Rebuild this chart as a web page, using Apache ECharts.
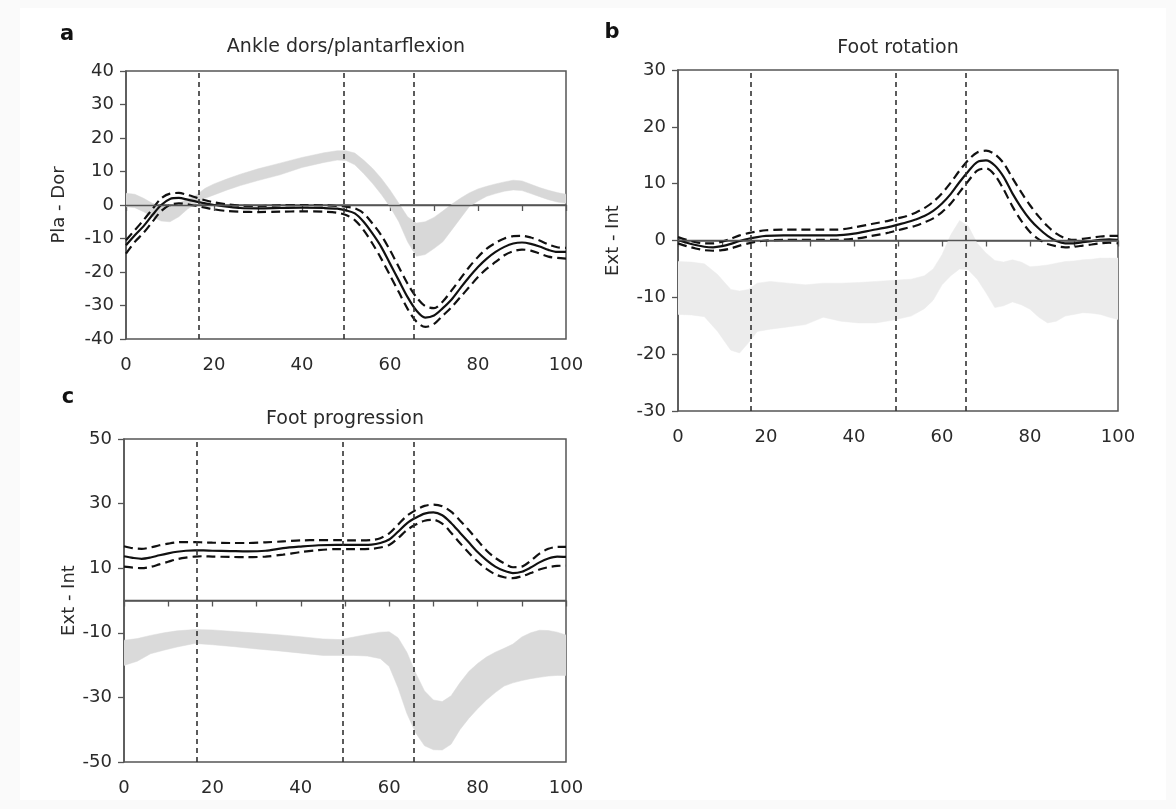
<!DOCTYPE html>
<html>
<head>
<meta charset="utf-8">
<script src="https://cdn.jsdelivr.net/npm/echarts@6/dist/echarts.min.js"></script>
<style>
html,body{margin:0;padding:0;background:#fafafa;}
#chart{width:1176px;height:809px;}
</style>
</head>
<body>
<div id="chart"></div>
<script>
// ---------- Data ----------
const verticalEvents = [16.5, 49.5, 65.5];

// Panel a: Ankle dors/plantarflexion
const aX = [0,2,4,6,8,10,12,14,16,18,20,23,26,30,35,40,45,48,50,52,54,56,58,60,62,64,66,68,70,72,74,76,78,80,82,84,86,88,90,92,94,96,98,100];
const aMean = [-12,-9,-6.3,-3,0,1.8,2.1,1.6,1.0,0.5,0,-0.5,-0.9,-1.0,-0.9,-0.8,-0.9,-1.1,-1.6,-2.5,-5,-8.5,-12.5,-17.5,-22.5,-27.5,-31.5,-33.6,-33,-30.8,-28.2,-24.8,-21.5,-18.5,-16,-14,-12.5,-11.5,-11.2,-11.6,-12.4,-13.4,-14,-14];
const aUpper = [-10.5,-7.5,-4.5,-1.2,2,3.4,3.6,3.0,2.2,1.4,0.8,0.2,-0.2,-0.3,-0.1,0,-0.1,-0.3,-0.5,-1.0,-2.5,-5.5,-9,-13.5,-18.5,-23.5,-27.5,-30.2,-30.8,-28.8,-25.5,-22,-18.5,-15.5,-13,-11.3,-10,-9.3,-9.2,-9.7,-10.6,-11.8,-12.6,-12.8];
const aLower = [-14.5,-11,-8.3,-5,-1.8,0,0.5,0.2,-0.3,-0.8,-1.3,-1.8,-2.0,-2.1,-2.0,-1.9,-2.0,-2.3,-3.0,-4.5,-7.5,-11.5,-16,-21,-26,-31,-34.8,-36.4,-35.5,-33,-30.5,-27.5,-24.5,-21.5,-19,-17,-15,-13.8,-13.3,-13.6,-14.5,-15.4,-15.8,-16];
const aBandX = [0,2,4,6,8,10,12,14,16,18,20,23,26,30,35,40,45,48,50,52,54,56,58,60,62,64,66,68,70,72,74,76,78,80,82,84,86,88,90,92,94,96,98,100];
const aBandHigh = [3.5,3.2,2,0.5,-0.3,-0.5,0.5,1.8,3,5,6.3,7.8,9.2,10.8,12.5,14.2,15.6,16.2,16.2,15.5,13.4,11,8,4.5,0.5,-3.5,-5.4,-5,-3.7,-1.8,0.2,2,3.6,4.8,5.6,6.3,6.9,7.4,7.2,6.2,5.2,4.4,3.7,3.2];
const aBandLow = [-0.5,-0.8,-2,-3.5,-4.8,-5,-3.5,-1.2,0.5,2,3,4.5,5.8,7.3,9,11.2,12.7,13.4,13.3,12,9.4,6.5,3.2,-0.5,-5,-11,-15.3,-14.8,-13,-11,-7.5,-4,-0.5,1.2,2.6,3.4,4.1,4.5,4.3,3.4,2.5,1.6,0.9,0.5];

// Panel b: Foot rotation
const bX = [0,2,4,6,8,10,12,14,16,18,20,24,28,32,36,40,44,48,50,52,54,56,58,60,62,64,66,68,70,72,74,76,78,80,82,84,86,88,90,92,94,96,98,100];
const bMean = [0.1,-0.4,-0.8,-1.1,-1.2,-1.0,-0.6,-0.1,0.3,0.6,0.8,0.9,0.9,0.9,0.9,1.2,1.8,2.4,2.8,3.2,3.7,4.3,5.2,6.5,8.2,10.3,12.2,13.8,14.1,13.2,11.2,8.3,5.8,3.7,2.1,0.8,-0.1,-0.5,-0.5,-0.3,-0.1,0.1,0.2,0.1];
const bUpper = [0.6,0.1,-0.3,-0.5,-0.5,-0.2,0.3,0.9,1.3,1.6,1.8,1.9,1.9,1.9,1.9,2.3,2.9,3.5,3.9,4.3,4.9,5.7,6.8,8.3,10.2,12.3,14.2,15.5,15.8,15.2,13.6,11,8.5,6.2,4.2,2.5,1.2,0.4,0.1,0.3,0.5,0.7,0.8,0.8];
const bLower = [-0.5,-1.0,-1.4,-1.7,-1.8,-1.7,-1.4,-0.9,-0.5,-0.2,0.0,0.1,0.1,0.1,0.1,0.3,0.8,1.4,1.8,2.2,2.6,3.2,3.9,5.0,6.5,8.5,10.5,12.3,12.7,11.5,9.0,6.0,3.5,1.5,0.2,-0.6,-1.0,-1.2,-1.1,-0.9,-0.7,-0.5,-0.4,-0.5];
const bBandX = [0,3,6,9,12,14,16,18,21,25,29,33,37,41,45,49,53,56,58,60,62,64,66,68,70,72,74,76,78,80,82,84,86,88,90,92,94,96,98,100];
const bBandHigh = [-3.7,-3.8,-4.1,-6.0,-8.6,-8.9,-8.6,-7.5,-7.2,-7.5,-7.8,-7.5,-7.5,-7.4,-7.2,-7.0,-6.8,-6.2,-5.0,-2.5,1.0,3.5,2.5,-0.5,-2.2,-3.5,-3.8,-3.4,-3.8,-4.6,-4.5,-4.3,-4.0,-3.7,-3.6,-3.4,-3.3,-3.1,-3.1,-3.1];
const bBandLow = [-13.0,-13.1,-13.4,-16.0,-19.3,-19.8,-18.0,-16.0,-15.6,-15.2,-14.8,-13.5,-14.2,-14.5,-14.5,-14.0,-13.3,-12.0,-10.5,-7.8,-6.2,-5.0,-5.2,-6.8,-9.2,-11.8,-11.5,-10.8,-11.3,-12.1,-13.5,-14.5,-14.2,-13.3,-13.0,-12.7,-12.8,-13.0,-13.5,-13.9];

// Panel c: Foot progression
const cX = [0,2,4,6,8,10,12,14,16,18,20,24,28,32,36,40,44,48,52,56,58,60,62,64,66,68,70,72,74,76,78,80,82,84,86,88,90,92,94,96,98,100];
const cMean = [13.7,13.2,12.9,13.3,14.0,14.6,15.1,15.4,15.5,15.5,15.4,15.3,15.2,15.4,16.2,16.7,17.1,17.2,17.2,17.3,17.8,18.9,21.3,23.9,25.6,26.9,27.3,26.4,24.0,21.0,18.0,15.0,12.5,10.5,9.2,8.5,8.9,10.2,11.8,13.0,13.6,13.5];
const cUpper = [16.8,16.2,16.0,16.4,17.1,17.6,18.0,18.1,18.1,18.0,17.9,17.8,17.8,18.0,18.3,18.6,18.7,18.7,18.6,18.7,19.3,20.8,23.5,26.2,28.0,29.3,29.7,29.2,27.5,24.8,21.8,18.6,15.5,13.2,11.5,10.3,10.5,12.3,14.5,16.0,16.6,16.6];
const cLower = [10.5,10.2,10.0,10.4,11.2,12.0,12.8,13.3,13.6,13.7,13.6,13.5,13.4,13.6,14.2,15.0,15.6,15.9,15.9,16.0,16.4,17.2,19.3,21.8,23.5,24.7,25.0,23.8,21.0,17.8,14.8,12.0,9.8,8.1,7.2,6.9,7.5,8.5,9.6,10.3,10.7,10.8];
const cBandX = [0,3,6,9,12,16,20,25,30,35,40,45,49,52,55,58,60,62,64,66,68,70,72,74,76,78,80,82,84,86,88,90,92,94,96,98,100];
const cBandHigh = [-12.3,-11.8,-10.8,-10.0,-9.4,-9.0,-9.1,-9.6,-10.1,-10.6,-11.2,-11.9,-12.1,-11.3,-10.5,-9.8,-9.7,-11.5,-16.0,-22.5,-28.0,-30.8,-31.3,-29.5,-25.5,-22.0,-19.5,-17.5,-16.0,-14.8,-13.5,-11.3,-10.0,-9.2,-9.3,-9.8,-10.7];
const cBandLow = [-20.1,-18.8,-16.5,-15.4,-14.4,-13.3,-13.7,-14.3,-15.0,-15.6,-16.3,-17.0,-17.0,-17.0,-17.2,-18.0,-20.4,-27.0,-35.0,-41.0,-45.0,-46.2,-46.3,-44.5,-40.0,-36.5,-33.5,-30.8,-28.5,-26.5,-25.5,-24.8,-24.2,-23.8,-23.4,-23.2,-23.2];

const xLabelValues = [0,20,40,60,80,100];
const xTickValues = [0,10,20,30,40,50,60,70,80,90,100];
const cYValues = [-50,-30,-10,10,30,50];

// ---------- Helpers ----------
const FONT = 'DejaVu Sans';
const AXIS_COLOR = '#555';
const TEXT_COLOR = '#2a2a2a';

function pairs(xs, ys) { return xs.map((x, i) => [x, ys[i]]); }

function xAxisCfg(gridIndex) {
  return {
    type: 'value', gridIndex, min: 0, max: 100,
    axisLine: { lineStyle: { color: AXIS_COLOR, width: 1.5 } },
    axisTick: { show: true, length: 6, lineStyle: { color: AXIS_COLOR, width: 1.3 }, customValues: xTickValues },
    axisLabel: { color: TEXT_COLOR, fontSize: 18, fontFamily: FONT, margin: 17, customValues: xLabelValues },
    splitLine: { show: false }
  };
}
function yAxisCfg(gridIndex, min, max, name, nameGap, extra) {
  const cfg = {
    type: 'value', gridIndex, min, max, interval: 10,
    name, nameLocation: 'middle', nameGap, nameRotate: 90,
    nameTextStyle: { color: TEXT_COLOR, fontSize: 18, fontFamily: FONT },
    axisLine: { lineStyle: { color: AXIS_COLOR, width: 1.5 } },
    axisTick: { show: true, length: 6, lineStyle: { color: AXIS_COLOR, width: 1.3 } },
    axisLabel: { color: TEXT_COLOR, fontSize: 18, fontFamily: FONT, margin: 12 },
    splitLine: { show: false }
  };
  if (extra) {
    cfg.axisTick.customValues = extra;
    cfg.axisLabel.customValues = extra;
  }
  return cfg;
}

function panelSeries(idx, xs, mean, upper, lower, bx, bHigh, bLow, bandColor) {
  const s = [];
  // normative band (grey polygon between bLow and bHigh, placed with the axis scales)
  s.push({
    type: 'custom', xAxisIndex: idx, yAxisIndex: idx, data: [[0, 0]], silent: true, z: 1, clip: true,
    renderItem: function (params, api) {
      const top = bx.map((x, i) => api.coord([x, bHigh[i]]));
      const bot = bx.map((x, i) => api.coord([x, bLow[i]])).reverse();
      return { type: 'polygon', shape: { points: top.concat(bot) }, style: { fill: bandColor, stroke: bandColor, lineWidth: 0.5 } };
    }
  });
  // reference lines
  s.push({
    type: 'line', xAxisIndex: idx, yAxisIndex: idx, data: [], symbol: 'none', z: 2,
    markLine: {
      silent: true, symbol: ['none', 'none'], label: { show: false },
      data: [
        { yAxis: 0, lineStyle: { color: AXIS_COLOR, width: 1.3, type: 'solid' } },
        ...verticalEvents.map(v => ({ xAxis: v, lineStyle: { color: '#333', width: 1.6, type: [5, 4] } }))
      ]
    }
  });
  const lineBase = { type: 'line', xAxisIndex: idx, yAxisIndex: idx, symbol: 'none', smooth: 0.3, z: 3, silent: true };
  s.push(Object.assign({}, lineBase, { data: pairs(xs, upper), lineStyle: { color: '#111', width: 2.2, type: [9, 5] } }));
  s.push(Object.assign({}, lineBase, { data: pairs(xs, lower), lineStyle: { color: '#111', width: 2.2, type: [9, 5] } }));
  s.push(Object.assign({}, lineBase, { data: pairs(xs, mean), lineStyle: { color: '#111', width: 2.2 } }));
  return s;
}

function txt(x, y, text, size, weight) {
  return {
    type: 'text', x, y, silent: true, z: 10,
    style: { text, fontSize: size, fontFamily: FONT, fontWeight: weight || 'normal', fill: weight ? '#111' : TEXT_COLOR, align: 'center', verticalAlign: 'middle' }
  };
}

const chart = echarts.init(document.getElementById('chart'), null, { renderer: 'canvas' });
const gridBorder = { show: true, borderColor: AXIS_COLOR, borderWidth: 1.5, backgroundColor: 'transparent' };
chart.setOption({
  animation: false,
  backgroundColor: '#fafafa',
  grid: [
    Object.assign({ left: 126, top: 71, width: 440, height: 268 }, gridBorder),
    Object.assign({ left: 678, top: 70, width: 440, height: 341 }, gridBorder),
    Object.assign({ left: 124, top: 439, width: 442, height: 323 }, gridBorder)
  ],
  xAxis: [xAxisCfg(0), xAxisCfg(1), xAxisCfg(2)],
  yAxis: [
    yAxisCfg(0, -40, 40, 'Pla - Dor', 58),
    yAxisCfg(1, -30, 30, 'Ext - Int', 56),
    yAxisCfg(2, -50, 50, 'Ext - Int', 45, cYValues)
  ],
  graphic: [
    { type: 'rect', z: -10, silent: true, shape: { x: 20, y: 8, width: 1146, height: 792 }, style: { fill: '#ffffff' } },
    txt(67, 35, 'a', 21, 'bold'),
    txt(612, 33, 'b', 21, 'bold'),
    txt(68, 398, 'c', 21, 'bold'),
    txt(346, 47, 'Ankle dors/plantarflexion', 19),
    txt(898, 48, 'Foot rotation', 19),
    txt(345, 419, 'Foot progression', 19)
  ],
  series: [
    ...panelSeries(0, aX, aMean, aUpper, aLower, aBandX, aBandHigh, aBandLow, '#d8d8d8'),
    ...panelSeries(1, bX, bMean, bUpper, bLower, bBandX, bBandHigh, bBandLow, '#ececec'),
    ...panelSeries(2, cX, cMean, cUpper, cLower, cBandX, cBandHigh, cBandLow, '#dadada')
  ]
});
</script>
</body>
</html>
